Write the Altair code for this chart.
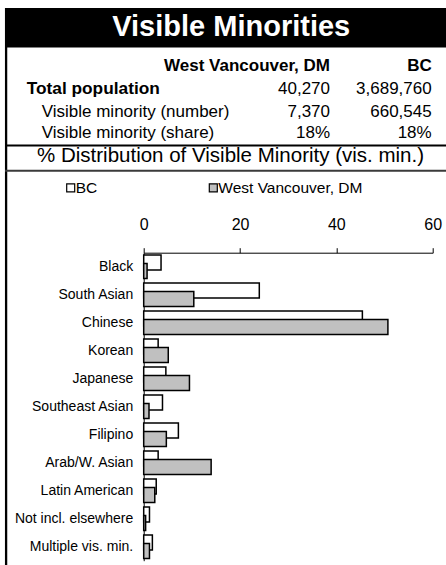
import altair as alt
import pandas as pd

FONT = "Liberation Sans"

# Summary table
regions = ["West Vancouver, DM", "BC"]
total_population = [40270, 3689760]
visible_minority = [7370, 660545]

# Distribution of the visible minority population (%)
groups = [
    "Black", "South Asian", "Chinese", "Korean", "Japanese",
    "Southeast Asian", "Filipino", "Arab/W. Asian", "Latin American",
    "Not incl. elsewhere", "Multiple vis. min.",
]
share_bc = [3.6, 24.0, 45.4, 3.0, 4.6, 3.9, 7.2, 3.0, 2.6, 1.2, 1.8]
share_wv = [0.7, 10.4, 50.7, 5.1, 9.5, 1.1, 4.7, 14.0, 2.3, 0.4, 1.2]
axis_ticks = [0, 20, 40, 60]

series = ["BC", "West Vancouver, DM"]
series_fill = ["#ffffff", "#c0c0c0"]

# Plot area geometry (pixels)
W, H = 289, 308
PAD_L, PAD_T = 143.7, 252.7
PAD_R, PAD_B = 446 - PAD_L - W, 565 - PAD_T - H


def px(x):
    return x - PAD_L


def py(y):
    return y - PAD_T


one = pd.DataFrame({"n": [0]})

dist = pd.DataFrame({
    "group": groups * 2,
    "series": [series[0]] * len(groups) + [series[1]] * len(groups),
    "share": share_bc + share_wv,
})

x_enc = alt.X(
    "share:Q",
    scale=alt.Scale(domain=[0, 60], nice=False, zero=True),
    axis=alt.Axis(
        orient="top", values=axis_ticks, tickSize=5, labelPadding=15,
        labelFlush=False, grid=False, title=None, labelFontSize=16,
        labelFont=FONT, labelColor="black", domainColor="black",
        tickColor="black", domainWidth=1, tickWidth=1,
    ),
)
y_enc = alt.Y(
    "group:N",
    sort=groups,
    scale=alt.Scale(paddingInner=0, paddingOuter=0),
    axis=alt.Axis(
        ticks=False, tickSize=0, labelPadding=11, title=None,
        labelFontSize=14, labelFont=FONT, labelColor="black",
        domainColor="black", domainWidth=1, grid=False, labelLimit=200,
    ),
)
fill_enc = alt.Fill(
    "series:N", scale=alt.Scale(domain=series, range=series_fill), legend=None
)

bars_bc = (
    alt.Chart(dist)
    .transform_filter(alt.datum.series == series[0])
    .mark_bar(size=15, yOffset=-4.2, stroke="black", strokeWidth=1.5)
    .encode(x=x_enc, y=y_enc, fill=fill_enc)
)
bars_wv = (
    alt.Chart(dist)
    .transform_filter(alt.datum.series == series[1])
    .mark_bar(size=15, yOffset=4.3, stroke="black", strokeWidth=1.5)
    .encode(x=x_enc, y=y_enc, fill=fill_enc)
)

layers = []

# Title band
layers.append(
    alt.Chart(one).mark_rect(color="black").encode(
        x=alt.value(px(5)), x2=alt.value(px(448)),
        y=alt.value(py(8)), y2=alt.value(py(47.5)),
    )
)
layers.append(
    alt.Chart(pd.DataFrame({"t": ["Visible Minorities"]}))
    .mark_text(font=FONT, fontSize=29, fontWeight="bold", color="white",
               align="center", baseline="alphabetic")
    .encode(text="t:N", x=alt.value(px(231.2)), y=alt.value(py(35.5)))
)

# Frame lines
layers.append(
    alt.Chart(one).mark_rule(color="black", strokeWidth=2.3).encode(
        x=alt.value(px(6.1)), y=alt.value(py(8)), y2=alt.value(py(570)),
    )
)
layers.append(
    alt.Chart(one).mark_rule(color="black", strokeWidth=2).encode(
        x=alt.value(px(5)), x2=alt.value(px(448)), y=alt.value(py(145.5)),
    )
)
layers.append(
    alt.Chart(one).mark_rule(color="#3a3a3a", strokeWidth=2).encode(
        x=alt.value(px(5)), x2=alt.value(px(448)), y=alt.value(py(170.7)),
    )
)

# Summary table
col_right = [330, 431.7]


def text_layer(text, x, y, size, weight="normal", align="left", color="black"):
    return (
        alt.Chart(pd.DataFrame({"t": [text]}))
        .mark_text(font=FONT, fontSize=size, fontWeight=weight, color=color,
                   align=align, baseline="alphabetic")
        .encode(text="t:N", x=alt.value(px(x)), y=alt.value(py(y)))
    )


for name, xr in zip(regions, col_right):
    layers.append(text_layer(name, xr, 71, 17, "bold", "right"))

layers.append(text_layer("Total population", 26.7, 93.8, 17.3, "bold"))
layers.append(text_layer("Visible minority (number)", 41.7, 116.5, 17))
layers.append(text_layer("Visible minority (share)", 41.7, 138, 17))

for tot, vm, xr in zip(total_population, visible_minority, col_right):
    layers.append(text_layer(f"{tot:,}", xr, 94, 17, align="right"))
    layers.append(text_layer(f"{vm:,}", xr, 116.5, 17, align="right"))
    layers.append(text_layer(f"{round(100 * vm / tot)}%", xr, 138, 17, align="right"))

layers.append(
    text_layer("% Distribution of Visible Minority (vis. min.)", 230.5, 162,
               20.5, align="center")
)

# Legend
legend_x = [66.7, 209.3]
for name, fill, lx in zip(series, series_fill, legend_x):
    layers.append(
        alt.Chart(one).mark_rect(fill=fill, stroke="black", strokeWidth=1.2).encode(
            x=alt.value(px(lx)), x2=alt.value(px(lx + 8)),
            y=alt.value(py(183.8)), y2=alt.value(py(191.8)),
        )
    )
    layers.append(text_layer(name, lx + 9, 192.5, 15.5))

chart = (
    alt.layer(bars_bc, bars_wv, *layers)
    .properties(
        width=W, height=H,
        padding={"left": PAD_L, "top": PAD_T, "right": PAD_R, "bottom": PAD_B},
        autosize=alt.AutoSizeParams(type="none"),
        background="white",
    )
    .configure_view(stroke=None)
)

chart.save("out.html", embed_options={"renderer": "svg", "actions": False})
